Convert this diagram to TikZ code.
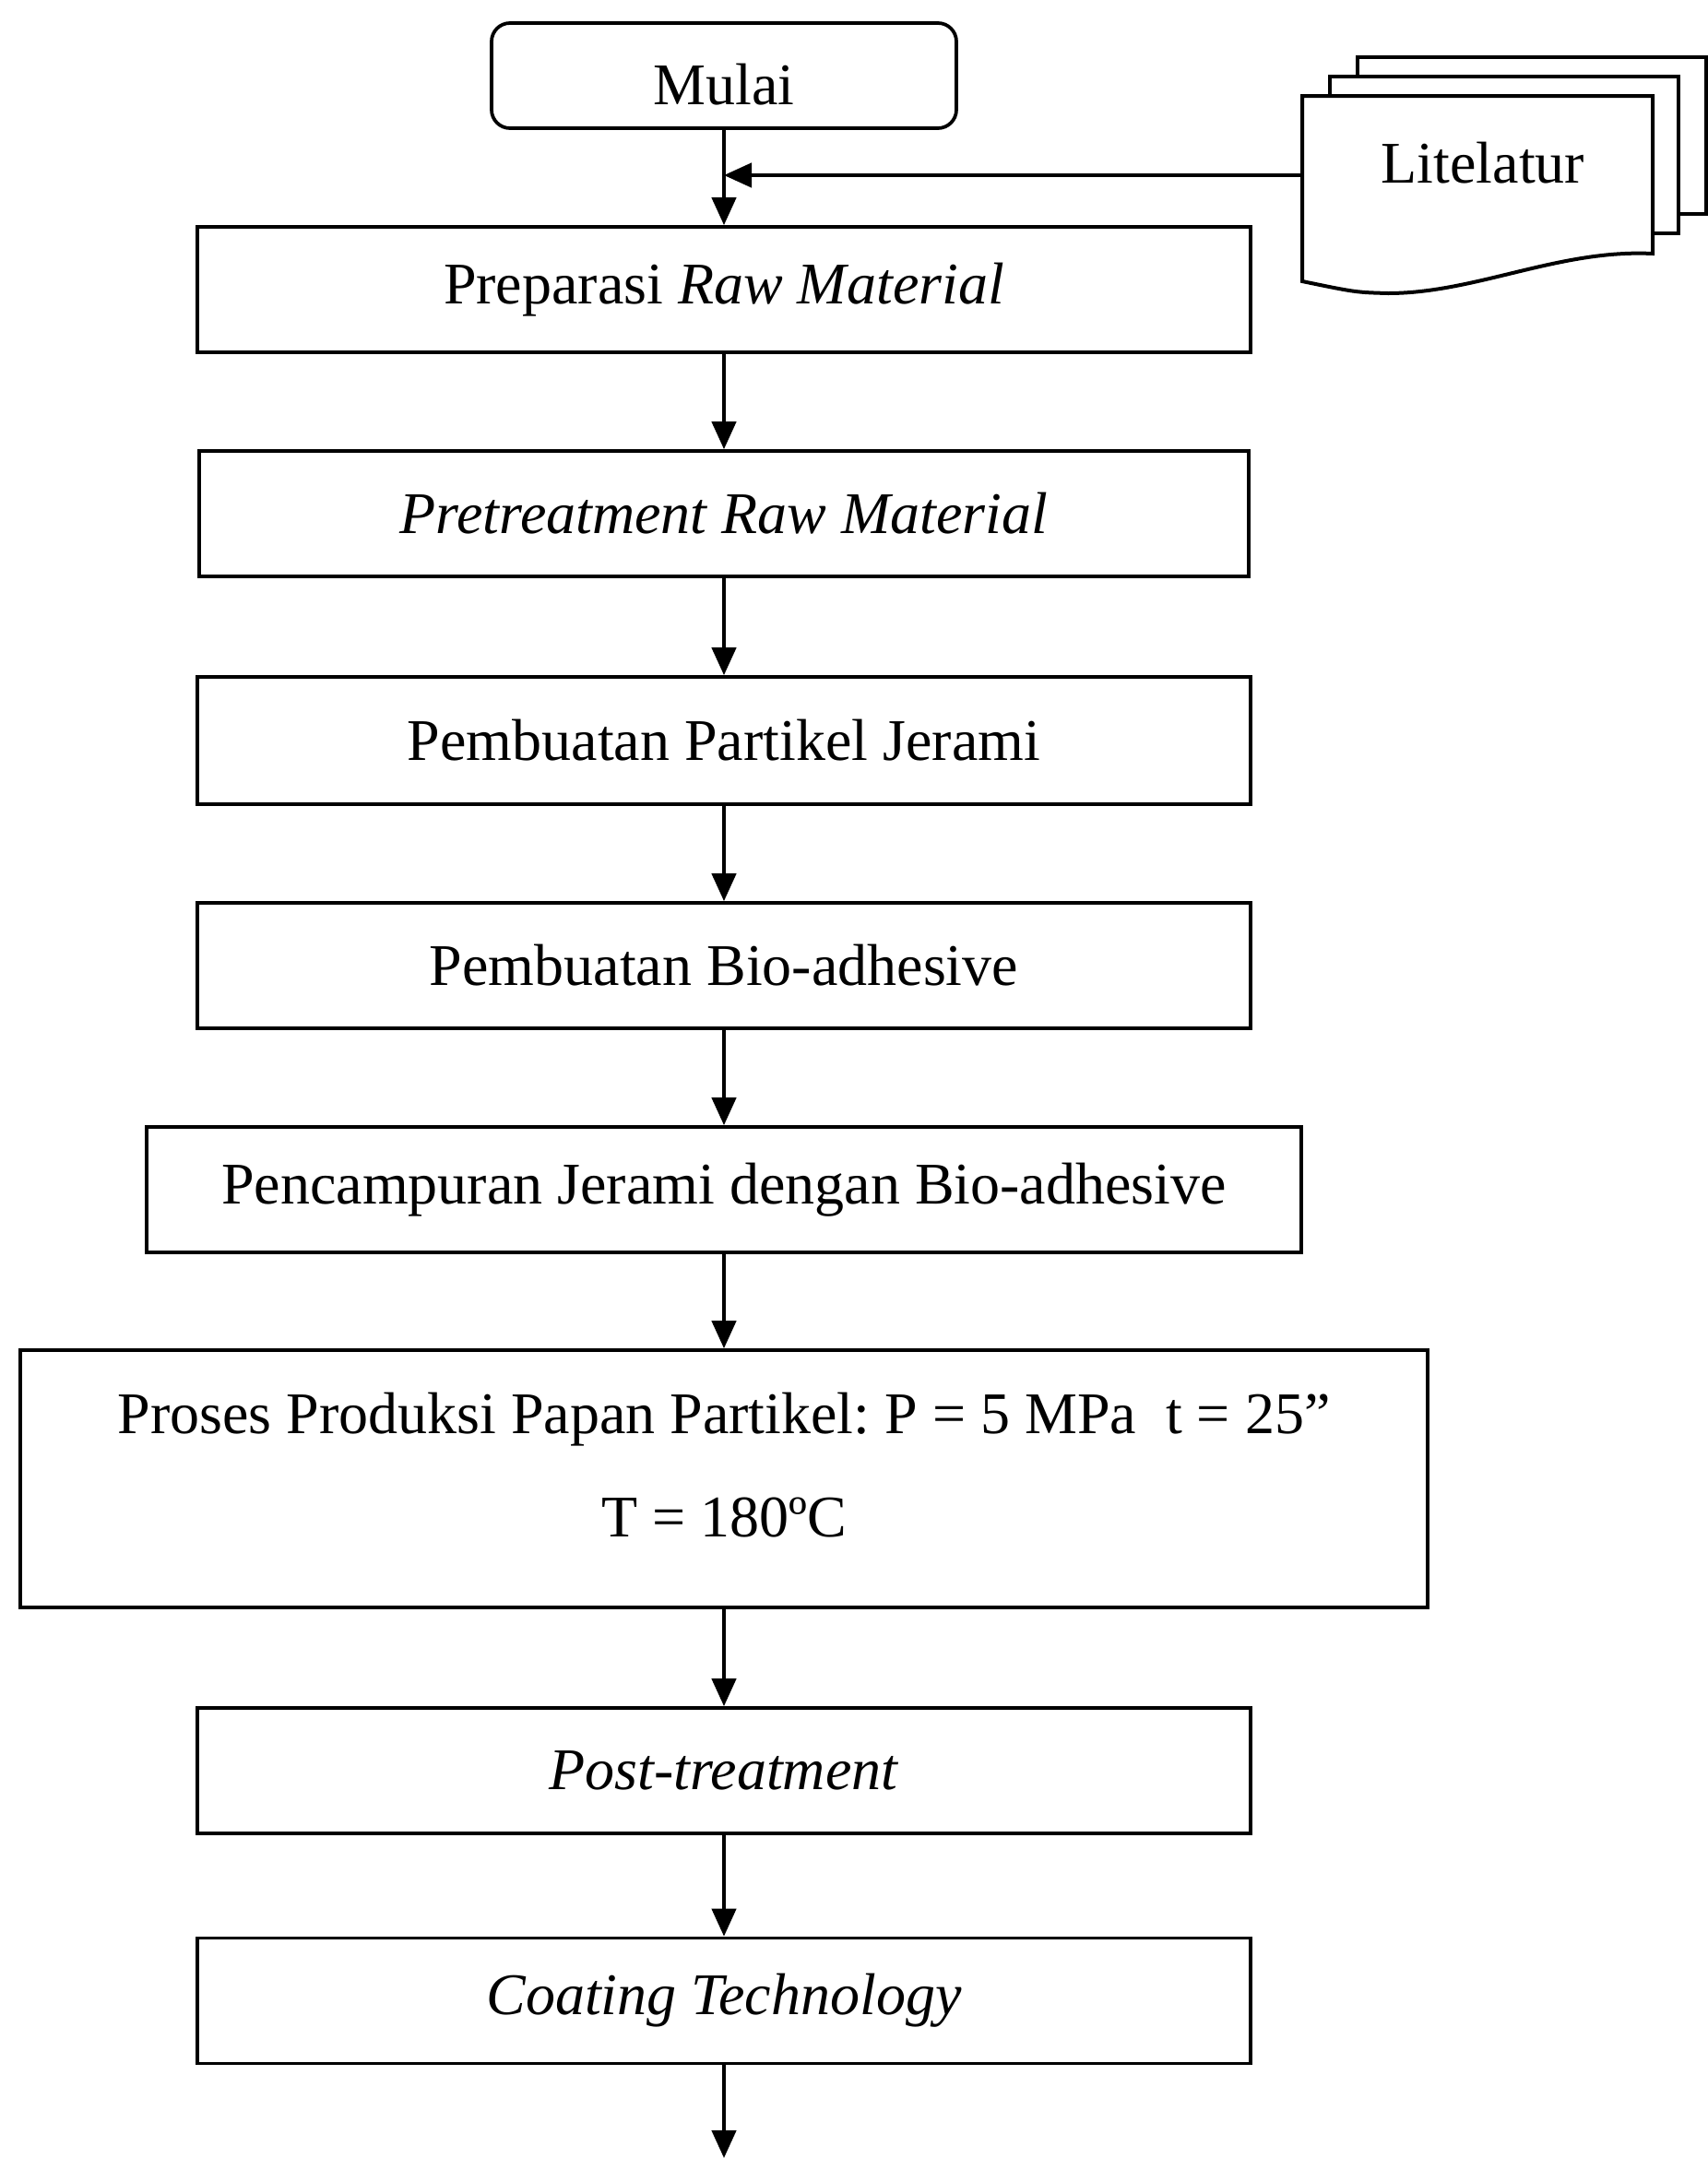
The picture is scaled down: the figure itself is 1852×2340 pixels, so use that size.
\documentclass[tikz,border=0pt]{standalone}
\usepackage{fontspec}
\setmainfont{Liberation Serif}
\usetikzlibrary{arrows.meta}
\begin{document}
\frenchspacing
\begin{tikzpicture}[x=0.4pt,y=-0.4pt,
  line width=1.5pt,
  font=\fontsize{25.6}{30}\selectfont,
  procbox/.style={draw, rectangle, inner sep=0pt, minimum height=54.4pt, minimum width=457pt, align=center},
  arr/.style={-{Triangle[length=12pt,width=10.5pt]}},
  docsheet/.style={draw, fill=white, line width=1.6pt}]
\useasboundingbox (0,0) rectangle (1852,2340);

\node[draw, rounded corners=8pt, inner sep=0pt, minimum width=201.6pt, minimum height=45.6pt, text height=25pt, text depth=0pt] (mulai) at (785,82) {Mulai};
\node[procbox] (prep) at (785,314) {Preparasi \textit{Raw Material}};
\node[procbox, minimum width=455.2pt] (pre) at (785,557) {\textit{Pretreatment Raw Material}};
\node[procbox, minimum height=55.2pt] (part) at (785,803) {Pembuatan Partikel Jerami};
\node[procbox] (bio) at (785,1047) {Pembuatan Bio-adhesive};
\node[procbox, minimum width=500.8pt] (mix) at (785,1290) {Pencampuran Jerami dengan Bio-adhesive};
\node[procbox, minimum width=610.4pt, minimum height=111.6pt, text depth=12pt] (prod) at (785,1603.5) {Proses Produksi Papan Partikel: P = 5 MPa\ \ t = 25”\\[15pt]T = 180ºC};
\node[procbox] (post) at (785,1920) {\textit{Post-treatment}};
\node[procbox] (coat) at (785,2169.5) {\textit{Coating Technology}};

% Litelatur multi-document
\draw[docsheet] (1472,62) rectangle (1850,232);
\draw[docsheet] (1442,83) rectangle (1820,253);
\draw[docsheet] (1412,104) -- (1792,104) -- (1792,275)
  .. controls (1690,270) and (1600,318) .. (1505,318)
  .. controls (1470,317) .. (1412,305) -- cycle;
\node (lit) at (1608,177) {Litelatur};
\coordinate (litw) at (1412,190);
\coordinate (join) at (785,190);
\coordinate (bottom) at (785,2340);

\draw[arr] (mulai) -- (prep);
\draw[arr] (litw) -- (join);
\draw[arr] (prep) -- (pre);
\draw[arr] (pre) -- (part);
\draw[arr] (part) -- (bio);
\draw[arr] (bio) -- (mix);
\draw[arr] (mix) -- (prod);
\draw[arr] (prod) -- (post);
\draw[arr] (post) -- (coat);
\draw[arr] (coat) -- (bottom);
\end{tikzpicture}
\end{document}
